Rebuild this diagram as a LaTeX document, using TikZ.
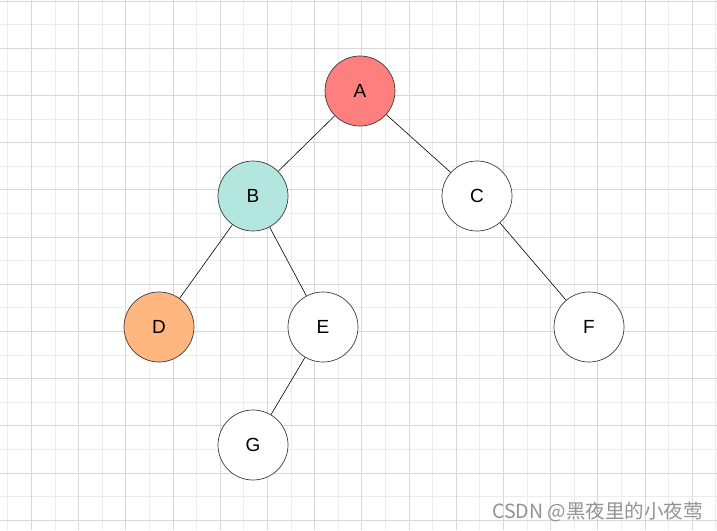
\documentclass[tikz,border=0pt]{standalone}
\usepackage{fontspec}
\setmainfont{Liberation Sans}
\newfontfamily\cjk{Noto Sans CJK SC}
\usepackage{tikz}
\usetikzlibrary{positioning}
\definecolor{gridmajor}{RGB}{216,216,216}
\definecolor{gridminor}{RGB}{236,236,236}
\definecolor{nodeA}{RGB}{255,127,127}
\definecolor{nodeB}{RGB}{178,230,222}
\definecolor{nodeD}{RGB}{255,182,127}
\definecolor{rim}{RGB}{60,60,60}

\begin{document}
\begin{tikzpicture}[
  x=1pt, y=-1pt,
  vertex/.style={circle,draw=rim,line width=0.7pt,fill=white,minimum size=70pt,inner sep=0pt,font=\fontsize{19}{22}\selectfont},
  edge/.style={black,line width=0.6pt}
]
  \useasboundingbox (0,0) rectangle (717,530);
  \fill[white] (0,0) rectangle (717,530);

  % background grid
  \foreach \k in {0,...,15} \draw[gridminor,line width=0.9pt] (7.9+47.2*\k,0) -- (7.9+47.2*\k,530);
  \foreach \k in {0,...,10} \draw[gridminor,line width=0.9pt] (0,24.6+47.2*\k) -- (717,24.6+47.2*\k);
  \foreach \k in {0,...,14} \draw[gridmajor,line width=0.9pt] (31.5+47.2*\k,0) -- (31.5+47.2*\k,530);
  \foreach \k in {0,...,11} \draw[gridmajor,line width=0.9pt] (0,1+47.2*\k) -- (717,1+47.2*\k);

  % tree
  \node[vertex,fill=nodeA] (a) at (360,91)  {A};
  \node[vertex,fill=nodeB] (b) at (253,196) {B};
  \node[vertex]            (c) at (477,196) {C};
  \node[vertex,fill=nodeD] (d) at (159,327) {D};
  \node[vertex]            (e) at (323,327) {E};
  \node[vertex]            (f) at (589,327) {F};
  \node[vertex]            (g) at (253,445) {G};
  \draw[edge] (a)--(b); \draw[edge] (a)--(c);
  \draw[edge] (b)--(d); \draw[edge] (b)--(e);
  \draw[edge] (c)--(f); \draw[edge] (e)--(g);

  \node[anchor=east,text=gray!85,font=\cjk\fontsize{19.5}{22}\selectfont,inner sep=0pt] (mark) at (703,512) {CSDN @黑夜里的小夜莺};
\end{tikzpicture}
\end{document}
